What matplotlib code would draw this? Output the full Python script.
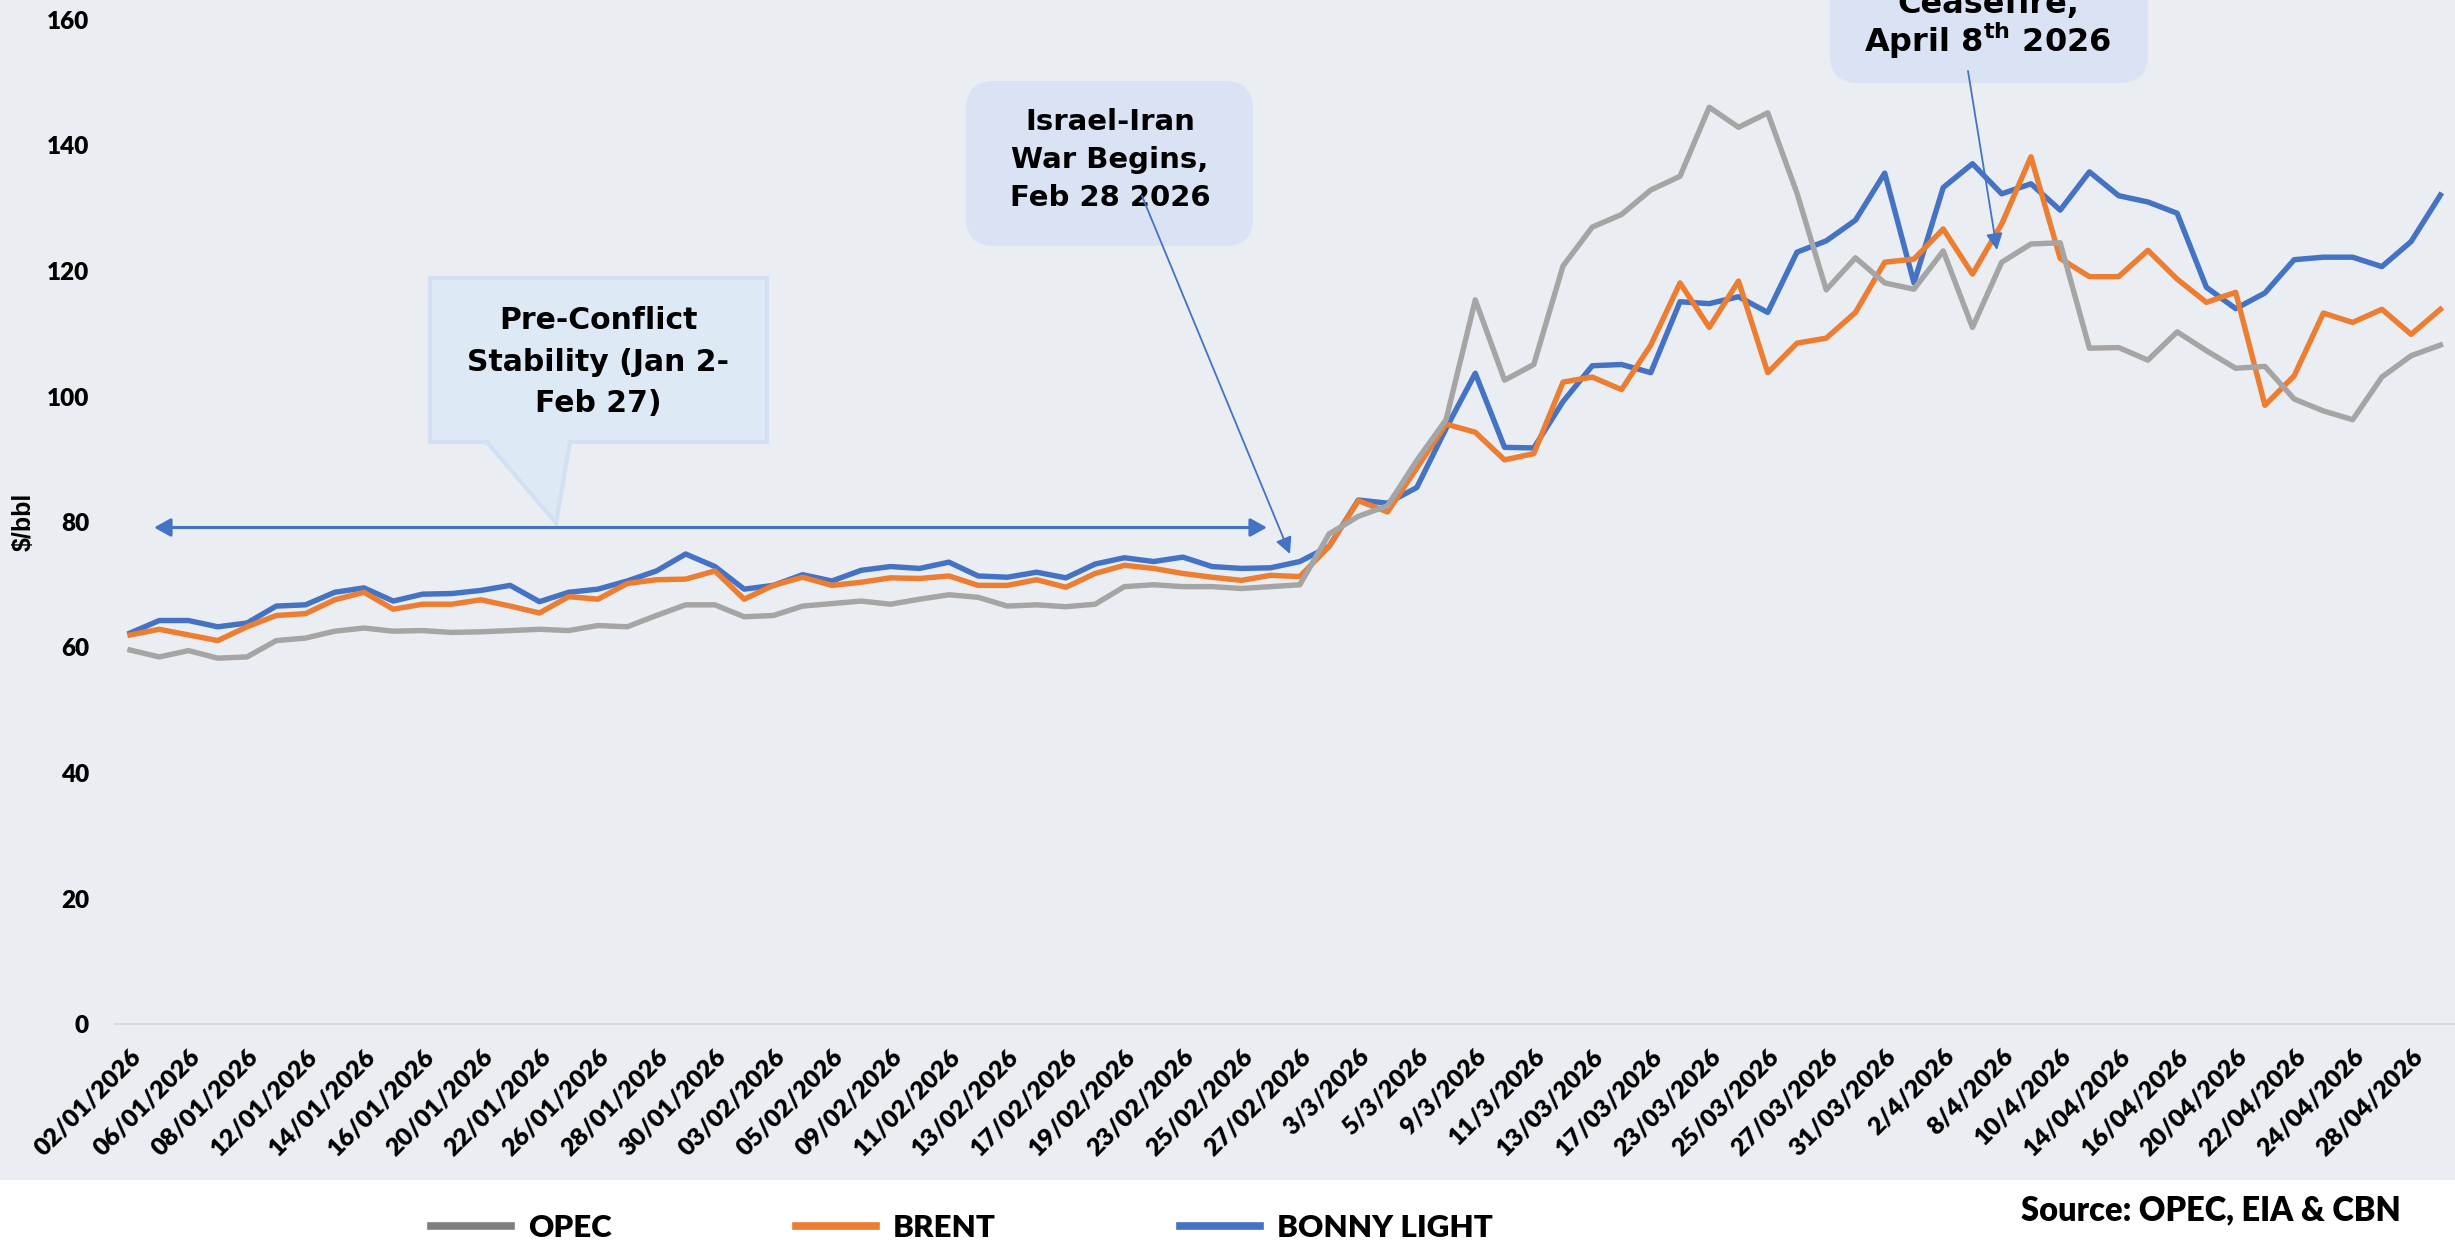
import matplotlib
matplotlib.use('Agg')
import matplotlib.pyplot as plt
from matplotlib.patches import FancyBboxPatch, Polygon, FancyArrowPatch, Rectangle
from matplotlib.lines import Line2D

# ---------------- data ----------------
dates = [
    '02/01/2026', '05/01/2026', '06/01/2026', '07/01/2026', '08/01/2026', '09/01/2026',
    '12/01/2026', '13/01/2026', '14/01/2026', '15/01/2026', '16/01/2026', '19/01/2026',
    '20/01/2026', '21/01/2026', '22/01/2026', '23/01/2026', '26/01/2026', '27/01/2026',
    '28/01/2026', '29/01/2026', '30/01/2026', '02/02/2026', '03/02/2026', '04/02/2026',
    '05/02/2026', '06/02/2026', '09/02/2026', '10/02/2026', '11/02/2026', '12/02/2026',
    '13/02/2026', '16/02/2026', '17/02/2026', '18/02/2026', '19/02/2026', '20/02/2026',
    '23/02/2026', '24/02/2026', '25/02/2026', '26/02/2026', '27/02/2026', '2/3/2026',
    '3/3/2026', '4/3/2026', '5/3/2026', '6/3/2026', '9/3/2026', '10/3/2026',
    '11/3/2026', '12/3/2026', '13/03/2026', '16/03/2026', '17/03/2026', '20/03/2026',
    '23/03/2026', '24/03/2026', '25/03/2026', '26/03/2026', '27/03/2026', '30/03/2026',
    '31/03/2026', '1/4/2026', '2/4/2026', '7/4/2026', '8/4/2026', '9/4/2026',
    '10/4/2026', '13/04/2026', '14/04/2026', '15/04/2026', '16/04/2026', '17/04/2026',
    '20/04/2026', '21/04/2026', '22/04/2026', '23/04/2026', '24/04/2026', '27/04/2026',
    '28/04/2026', '29/04/2026',
]

opec = [
    59.6, 58.5, 59.5, 58.3, 58.5, 61.1, 61.5, 62.6, 63.1, 62.6,
    62.7, 62.4, 62.5, 62.7, 62.9, 62.7, 63.5, 63.3, 65.1, 66.8,
    66.8, 64.9, 65.1, 66.6, 67.0, 67.4, 66.9, 67.7, 68.4, 68.0,
    66.6, 66.8, 66.5, 66.9, 69.7, 70.0, 69.7, 69.7, 69.4, 69.7,
    70.0, 78.1, 80.9, 82.6, 89.8, 96.3, 115.4, 102.6, 105.1, 120.8,
    127.0, 129.0, 132.9, 135.1, 146.1, 142.9, 145.2, 132.4, 117.0, 122.1,
    118.1, 117.1, 123.2, 111.0, 121.4, 124.3, 124.5, 107.7, 107.8, 105.8,
    110.3, 107.3, 104.5, 104.8, 99.6, 97.7, 96.3, 103.1, 106.5, 108.2,
]

brent = [
    62.0, 62.9, 62.0, 61.1, 63.3, 65.1, 65.4, 67.6, 68.8, 66.1,
    66.9, 66.9, 67.6, 66.6, 65.5, 68.1, 67.7, 70.2, 70.8, 70.9,
    72.2, 67.7, 69.9, 71.2, 69.9, 70.4, 71.1, 71.0, 71.4, 69.9,
    69.9, 70.8, 69.6, 71.8, 73.1, 72.6, 71.8, 71.2, 70.7, 71.5,
    71.3, 76.1, 83.4, 81.6, 88.6, 95.6, 94.3, 89.9, 90.9, 102.3,
    103.1, 101.1, 108.2, 118.1, 111.0, 118.4, 103.8, 108.5, 109.3, 113.4,
    121.4, 121.9, 126.7, 119.5, 127.5, 138.2, 122.0, 119.1, 119.1, 123.3,
    118.7, 115.0, 116.6, 98.6, 103.3, 113.3, 111.8, 113.9, 109.9, 113.9,
]

bonny_light = [
    62.3, 64.3, 64.3, 63.3, 63.9, 66.6, 66.8, 68.8, 69.5, 67.4,
    68.5, 68.6, 69.1, 69.9, 67.3, 68.8, 69.3, 70.6, 72.2, 74.9,
    72.9, 69.3, 69.9, 71.6, 70.6, 72.3, 72.9, 72.6, 73.6, 71.4,
    71.2, 72.0, 71.1, 73.3, 74.3, 73.7, 74.4, 72.9, 72.6, 72.7,
    73.7, 76.1, 83.5, 83.0, 85.5, 94.9, 103.7, 91.9, 91.8, 99.2,
    104.9, 105.1, 103.8, 115.1, 114.8, 115.9, 113.4, 123.0, 124.8, 128.1,
    135.6, 118.1, 133.3, 137.1, 132.3, 133.9, 129.7, 135.8, 132.0, 131.0,
    129.2, 117.4, 114.0, 116.5, 121.8, 122.2, 122.2, 120.7, 124.7, 132.1,
]

series_names = ['OPEC', 'BRENT', 'BONNY LIGHT']
y_ticks = [0, 20, 40, 60, 80, 100, 120, 140, 160]
y_label = '$/bbl'
source_text = 'Source: OPEC, EIA & CBN'

# ---------------- style ----------------
W, H = 2455, 1245
BG = '#EAEDF2'
C_OPEC, C_BRENT, C_BONNY = '#A5A5A5', '#ED7D31', '#4472C4'
ARROW = '#4472C4'

plt.rcParams['font.family'] = ['Lato', 'DejaVu Sans']
plt.rcParams['font.weight'] = 'bold'

fig = plt.figure(figsize=(W / 100, H / 100), dpi=100)
fig.patch.set_facecolor('white')
fig.add_artist(Rectangle((0, (H - 1180) / H), 1, 1180 / H, transform=fig.transFigure,
                         facecolor=BG, edgecolor='none', zorder=-10))


def P(X, Y):
    """full-size pixel position -> inches (for fig.dpi_scale_trans)"""
    return (X / 100.0, (H - Y) / 100.0)


ax = fig.add_axes([115.4 / W, 1 - 1024 / H, (W - 115.4) / W, (1024 - 20) / H])
ax.set_facecolor(BG)
ax.patch.set_alpha(0)

x = list(range(len(dates)))
ax.plot(x, bonny_light, color=C_BONNY, lw=3.9, solid_joinstyle='round', zorder=3)
ax.plot(x, brent, color=C_BRENT, lw=3.9, solid_joinstyle='round', zorder=4)
ax.plot(x, opec, color=C_OPEC, lw=3.9, solid_joinstyle='round', zorder=5)

ax.set_xlim(-0.5, len(dates) - 0.5)
ax.set_ylim(0, 160)
ax.set_yticks(y_ticks)
ax.set_yticklabels([str(v) for v in y_ticks], fontsize=17.5, fontweight='heavy')
ax.set_xticks(x[::2])
ax.set_xticklabels(dates[::2], fontsize=18, fontweight='heavy', rotation=45,
                   ha='right', rotation_mode='anchor')
ax.tick_params(axis='x', length=0, pad=15)
ax.tick_params(axis='y', length=0, pad=19)
for s in ['left', 'right', 'top']:
    ax.spines[s].set_visible(False)
ax.spines['bottom'].set_color('#D9D9D9')
ax.spines['bottom'].set_linewidth(1.6)

fig.text(24 / W, 1 - 522 / H, y_label, rotation=90, ha='center', va='center',
         fontsize=18, fontweight='bold', family='Liberation Sans')

# ---------------- legend ----------------
handles = [Line2D([], [], color='#7F7F7F', lw=5.5),
           Line2D([], [], color=C_BRENT, lw=5.5),
           Line2D([], [], color=C_BONNY, lw=5.5)]
fig.legend(handles, series_names, loc='center left', bbox_to_anchor=(431 / W, 1 - 1228 / H),
           ncol=3, frameon=False, prop={'weight': 'heavy', 'size': 22.5},
           handlelength=2.55, handletextpad=0.55, columnspacing=5.9,
           borderpad=0, borderaxespad=0)

fig.text(2401 / W, 1 - 1210 / H, source_text, ha='right', va='center',
         fontsize=23.5, fontweight='heavy')

# ---------------- annotations ----------------
tr = fig.dpi_scale_trans
ANN_FONT = 'DejaVu Sans'

# Pre-conflict callout
callout = [P(430, 278), P(767, 278), P(767, 442), P(570, 442), P(556, 523), P(487, 442), P(430, 442)]
fig.add_artist(Polygon(callout, closed=True, transform=tr, facecolor='#DEE9F6',
                       edgecolor='#D3DFF2', lw=3, zorder=6))
for txt, yb in [('Pre-Conflict', 329), ('Stability (Jan 2-', 371), ('Feb 27)', 412)]:
    fig.text(*P(598, yb), txt, transform=tr, ha='center', va='baseline',
             fontsize=21.5, fontweight='bold', family=ANN_FONT, zorder=7)

# horizontal double arrow
fig.add_artist(FancyArrowPatch(P(154, 527.5), P(1267, 527.5), transform=tr,
                               arrowstyle='<|-|>,head_length=10,head_width=5.5',
                               mutation_scale=1, lw=2.2, color=ARROW,
                               shrinkA=0, shrinkB=0, zorder=6))

# Israel-Iran box
fig.add_artist(FancyBboxPatch(P(966, 246), (1253 - 966) / 100, (246 - 81) / 100, transform=tr,
                              boxstyle='round,pad=0,rounding_size=0.28',
                              facecolor='#DAE3F3', edgecolor='none', zorder=6))
for txt, yb in [('Israel-Iran', 130), ('War Begins,', 168), ('Feb 28 2026', 206)]:
    fig.text(*P(1110, yb), txt, transform=tr, ha='center', va='baseline',
             fontsize=21, fontweight='bold', family=ANN_FONT, zorder=7)
fig.add_artist(FancyArrowPatch(P(1142, 196), P(1290, 554), transform=tr,
                               arrowstyle='-|>,head_length=10,head_width=5',
                               mutation_scale=1, lw=1.3, color=ARROW,
                               shrinkA=0, shrinkB=0, zorder=8))

# Ceasefire box (cut by the top edge, as in the source image)
fig.add_artist(FancyBboxPatch(P(1830, 83), (2148 - 1830) / 100, 1.6, transform=tr,
                              boxstyle='round,pad=0,rounding_size=0.28',
                              facecolor='#DAE3F3', edgecolor='none', zorder=6))
fig.text(*P(1988, 13), 'Ceasefire,', transform=tr, ha='center', va='baseline',
         fontsize=23, fontweight='bold', family=ANN_FONT, zorder=7)
fig.text(*P(1988, 52), r'April 8$^{\mathbf{th}}$ 2026', transform=tr, ha='center',
         va='baseline', fontsize=23, fontweight='bold', family=ANN_FONT, zorder=7)
fig.add_artist(FancyArrowPatch(P(1968, 71), P(1997, 250), transform=tr,
                               arrowstyle='-|>,head_length=10,head_width=5',
                               mutation_scale=1, lw=1.3, color=ARROW,
                               shrinkA=0, shrinkB=0, zorder=8))

fig.savefig('out.png', dpi=100, facecolor=fig.get_facecolor())
